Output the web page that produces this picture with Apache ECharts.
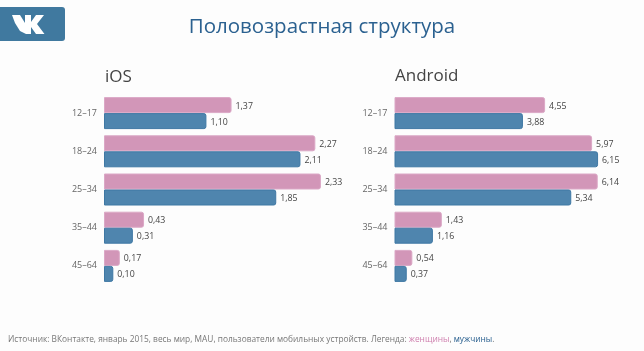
<!DOCTYPE html>
<html>
<head>
<meta charset="utf-8">
<style>
  html, body { margin: 0; padding: 0; background: #fdfdfd; }
  #chart { width: 644px; height: 351px; }
</style>
<script src="https://cdn.jsdelivr.net/npm/echarts@6/dist/echarts.min.js"></script>
</head>
<body>
<div id="chart"></div>
<script>
const categories = ["12–17", "18–24", "25–34", "35–44", "45–64"];
const iosWomen = [1.37, 2.27, 2.33, 0.43, 0.17];
const iosMen = [1.10, 2.11, 1.85, 0.31, 0.10];
const androidWomen = [4.55, 5.97, 6.14, 1.43, 0.54];
const androidMen = [3.88, 6.15, 5.34, 1.16, 0.37];

const PINK = "#d296b8";
const BLUE = "#4f85ae";
const FONT = "'Open Sans', sans-serif";

function barSeries(name, data, axisIndex, color, border) {
  return {
    name: name,
    type: "bar",
    xAxisIndex: axisIndex,
    yAxisIndex: axisIndex,
    data: data,
    barWidth: 16,
    barGap: 0,
    itemStyle: { color: color, borderColor: border, borderWidth: 1, borderRadius: [0, 2, 2, 0] },
    label: {
      show: true,
      position: "right",
      distance: 4,
      offset: [0, 1],
      fontFamily: FONT,
      fontSize: 8.8,
      color: "#444",
      formatter: p => p.value.toFixed(2).replace(".", ",")
    },
    silent: true,
    animation: false
  };
}

function yAxis(gridIndex) {
  return {
    type: "category",
    gridIndex: gridIndex,
    data: categories,
    inverse: true,
    axisLine: { show: false },
    axisTick: { show: false },
    axisLabel: { fontFamily: FONT, fontSize: 9, color: "#666", margin: 7 }
  };
}

function xAxis(gridIndex, max) {
  return { type: "value", gridIndex: gridIndex, min: 0, max: max, show: false };
}

const option = {
  backgroundColor: "#fdfdfd",
  animation: false,
  grid: [
    { left: 104, top: 94, width: 232.75, height: 191 },
    { left: 394.5, top: 94, width: 231.7, height: 191 }
  ],
  xAxis: [xAxis(0, 2.5), xAxis(1, 7)],
  yAxis: [yAxis(0), yAxis(1)],
  series: [
    barSeries("женщины", iosWomen, 0, PINK, "#dba8c6"),
    barSeries("мужчины", iosMen, 0, BLUE, "#3f78a4"),
    barSeries("женщины", androidWomen, 1, PINK, "#dba8c6"),
    barSeries("мужчины", androidMen, 1, BLUE, "#3f78a4")
  ],
  graphic: [
    {
      type: "rect",
      shape: { x: -6, y: 7, width: 71, height: 34, r: 3 },
      style: { fill: "#40799f" }
    },
    {
      // логотип
      type: "polygon",
      shape: {
        points: [[12, 15], [20, 15], [25, 23], [25, 15], [31, 15], [31, 22], [36, 15], [44, 15],
          [37, 24], [44.5, 34], [36, 34], [31, 27], [31, 34], [26, 34], [20, 31], [15, 23]]
      },
      style: { fill: "#fff" }
    },
    {
      type: "text",
      x: 322, y: 27,
      style: {
        text: "Половозрастная структура",
        fontFamily: FONT,
        fontSize: 20.5,
        fill: "#2b6190",
        align: "center",
        verticalAlign: "middle"
      }
    },
    {
      type: "text",
      x: 105, y: 77,
      style: { text: "iOS", fontFamily: FONT, fontSize: 17, fill: "#444", verticalAlign: "middle" }
    },
    {
      type: "text",
      x: 395, y: 76,
      style: { text: "Android", fontFamily: FONT, fontSize: 17, fill: "#444", verticalAlign: "middle" }
    },
    {
      type: "text",
      x: 8, y: 340,
      style: {
        text: "{g|Источник: ВКонтакте, январь 2015, весь мир, MAU, пользователи мобильных устройств. Легенда: }{w|женщины}{g|, }{m|мужчины}{g|.}",
        fontFamily: FONT,
        fontSize: 8.35,
        verticalAlign: "middle",
        rich: {
          g: { fontFamily: FONT, fontSize: 8.35, fill: "#777" },
          w: { fontFamily: FONT, fontSize: 8.35, fill: "#cf7fae" },
          m: { fontFamily: FONT, fontSize: 8.35, fill: "#2b6190" }
        }
      }
    }
  ]
};

const chart = echarts.init(document.getElementById("chart"), null, { renderer: "canvas" });
chart.setOption(option);
</script>
</body>
</html>
